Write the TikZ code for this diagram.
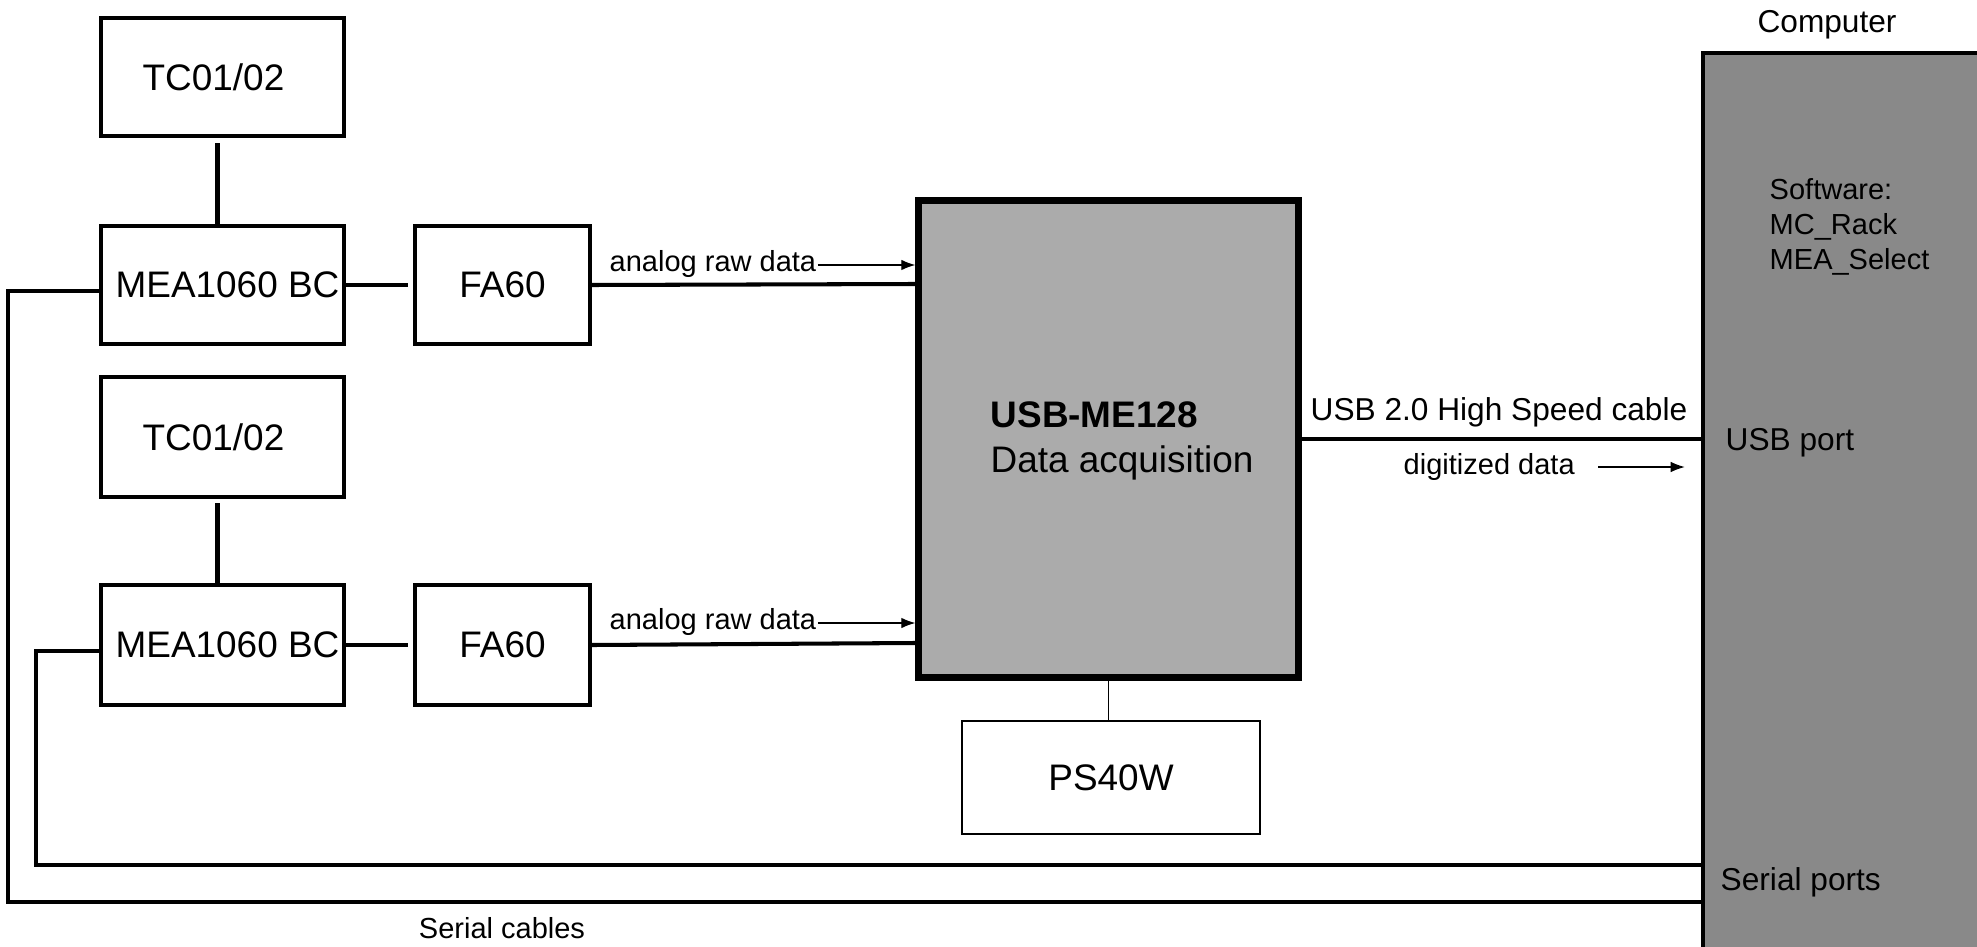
\documentclass[tikz,border=0pt]{standalone}
\usepackage{fontspec}
\setmainfont{Liberation Sans}
\usetikzlibrary{arrows.meta}
\definecolor{daqgray}{HTML}{ABABAB}
\definecolor{pcgray}{HTML}{898989}
\newcommand{\fbig}{\fontsize{10.5}{12.6}\selectfont}
\newcommand{\fmid}{\fontsize{9}{10.8}\selectfont}
\newcommand{\fsmall}{\fontsize{8.25}{10}\selectfont}
\begin{document}
\begin{tikzpicture}[x=0.01cm,y=0.01cm,
  box/.style={draw, line width=1.15pt, inner sep=0pt, font=\fbig},
  daqbox/.style={draw, line width=2pt, fill=daqgray, inner sep=0pt, font=\fbig, align=left},
  psbox/.style={draw, line width=0.75pt, inner sep=0pt, font=\fbig},
  pcbox/.style={draw, line width=1.2pt, fill=pcgray, inner sep=0pt},
  wire/.style={line width=1.15pt},
  cable/.style={line width=1.25pt},
  thinwire/.style={line width=0.45pt},
  arr/.style={line width=0.35pt, -{Latex[length=4pt,width=3pt]}},
  lab/.style={inner sep=0pt, font=\fsmall},
  labm/.style={inner sep=0pt, font=\fmid}]
\useasboundingbox (0,0) rectangle (1977,-946);
\clip (0,0) rectangle (1977,-946);

% blocks
\node[box, minimum width=2.43cm, minimum height=1.18cm] (tc1) at (222.5,-77) {\hspace*{-0.18cm}TC01/02};
\node[box, minimum width=2.43cm, minimum height=1.18cm] (mea1) at (222.5,-285) {\hspace*{0.1cm}MEA1060 BC};
\node[box, minimum width=1.75cm, minimum height=1.18cm] (fa1) at (502.5,-285) {FA60};
\node[box, minimum width=2.43cm, minimum height=1.20cm] (tc2) at (222.5,-437) {\hspace*{-0.18cm}TC01/02};
\node[box, minimum width=2.43cm, minimum height=1.20cm] (mea2) at (222.5,-645) {\hspace*{0.1cm}MEA1060 BC};
\node[box, minimum width=1.75cm, minimum height=1.20cm] (fa2) at (502.5,-645) {FA60};
\node[daqbox, minimum width=3.79cm, minimum height=4.76cm] (daq) at (1108.5,-439) {};
\node[inner sep=0pt, font=\fbig, align=left, anchor=west] (daqtxt) at (990,-441) {\textbf{USB-ME128}\\[0.3pt]Data acquisition};
\node[psbox, minimum width=2.98cm, minimum height=1.13cm] (ps) at (1111,-777.5) {PS40W};
\node[pcbox, minimum width=3.97cm, minimum height=10.47cm] (pc) at (1901.5,-576.5) {};

% computer texts
\node[labm] (comp) at (1827,-25) {Computer};
\node[lab, align=left, anchor=west] (sw) at (1769,-227) {Software:\\MC\_Rack\\MEA\_Select};
\node[labm, anchor=west] (usbp) at (1725,-443) {USB port};
\node[labm, anchor=west] (serp) at (1720,-882) {Serial ports};

% vertical links
\draw[wire] ([xshift=-0.05cm]tc1.south) ++(0,-5) -- ([xshift=-0.05cm]mea1.north);
\draw[wire] ([xshift=-0.05cm]tc2.south) ++(0,-4) -- ([xshift=-0.05cm]mea2.north);
\draw[wire] (mea1.east) -- ([xshift=-0.045cm]fa1.west);
\draw[wire] (mea2.east) -- ([xshift=-0.045cm]fa2.west);
\draw[thinwire] (daq.south) -- (daq.south |- ps.north);

% analog lines
\draw[wire] (fa1.east) -- ([yshift=0.01cm]fa1.east -| daq.west);
\draw[wire] (fa2.east) -- ([yshift=0.02cm]fa2.east -| daq.west);
\node[lab, anchor=west] (an1) at (609,-264) {analog raw data};
\node[lab, anchor=west] (an2) at (609,-622) {analog raw data};
\draw[arr] ([xshift=0.01cm,yshift=-0.01cm]an1.east) -- ([yshift=-0.01cm]an1.east -| daq.west);
\draw[arr] ([xshift=0.01cm,yshift=-0.01cm]an2.east) -- ([yshift=-0.01cm]an2.east -| daq.west);

% USB cable
\draw[wire] (daq.east) -- (daq.east -| pc.west);
\node[labm, anchor=west] (usbc) at (1310,-412) {USB 2.0 High Speed cable};
\node[lab, anchor=west] (dig) at (1403,-467) {digitized data};
\draw[arr] ([xshift=0.23cm]dig.east) -- ([xshift=-0.16cm]dig.east -| pc.west);

% serial cables
\coordinate (s1) at (0,-902);
\coordinate (s2) at (0,-865);
\draw[cable] ([yshift=-0.06cm]mea1.west) -- ++(-91,0) |- (pc.west |- s1);
\draw[cable] ([yshift=-0.06cm]mea2.west) -- ++(-63,0) |- (pc.west |- s2);
\node[lab] (sc) at (502,-928) {Serial cables};
\end{tikzpicture}
\end{document}
